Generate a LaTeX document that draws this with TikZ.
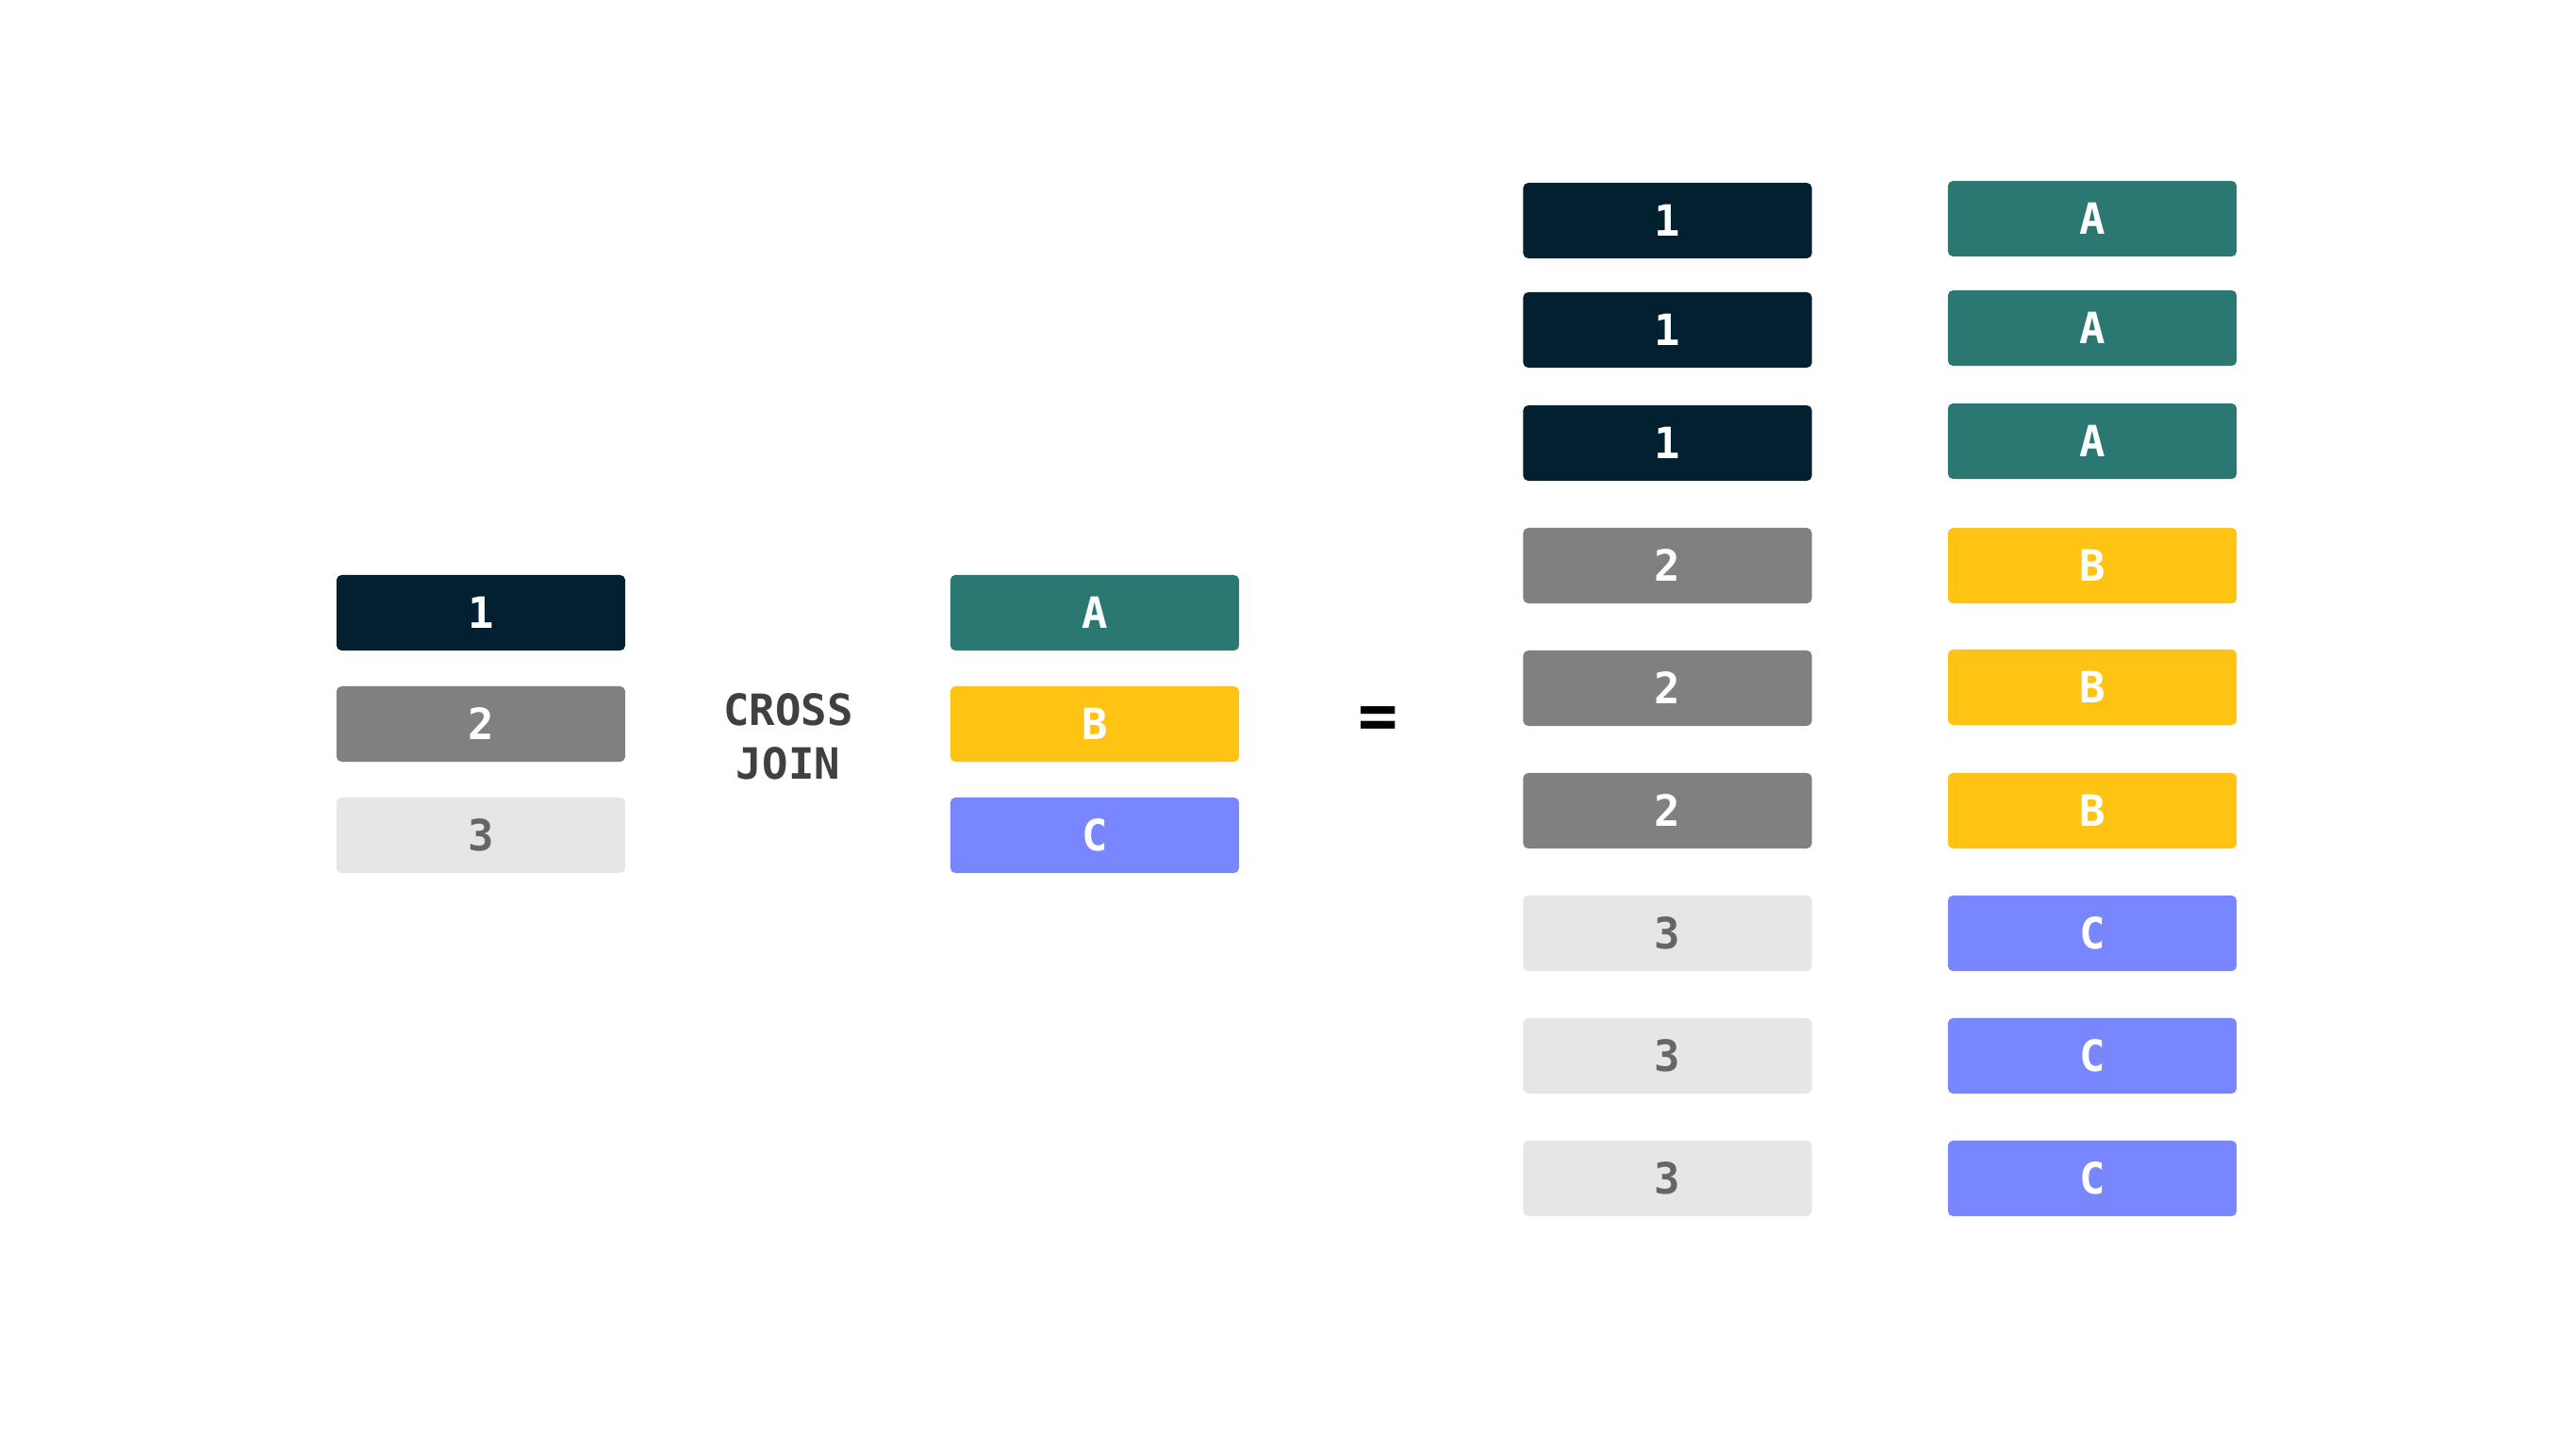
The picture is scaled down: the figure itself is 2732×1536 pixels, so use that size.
\documentclass[tikz,border=0pt]{standalone}
\usepackage{fontspec}
\setmonofont{DejaVu Sans Mono}
\usepackage{xcolor}
\usepackage{tikz}
\definecolor{ink}{HTML}{02202F}
\definecolor{pine}{HTML}{2A7871}
\definecolor{slate}{HTML}{808080}
\definecolor{mist}{HTML}{E6E6E6}
\definecolor{amber}{HTML}{FFC413}
\definecolor{iris}{HTML}{7886FF}
\definecolor{dimtext}{HTML}{666666}
\definecolor{lead}{HTML}{404040}
\tikzset{
  cell/.style={rectangle, rounded corners=1.5pt, minimum width=3.06cm, minimum height=0.8cm,
    inner sep=0pt, text height=9.4pt, text depth=0pt,
    font=\ttfamily\bfseries\fontsize{13}{16}\selectfont},
  cellone/.style={cell, fill=ink, text=white},
  celltwo/.style={cell, fill=slate, text=white},
  cellthree/.style={cell, fill=mist, text=dimtext},
  cella/.style={cell, fill=pine, text=white},
  cellb/.style={cell, fill=amber, text=white},
  cellc/.style={cell, fill=iris, text=white},
  lab/.style={text=lead, align=center, font=\ttfamily\bfseries\fontsize{13}{16.2}\selectfont},
}
\begin{document}
\begin{tikzpicture}[x=0.01cm,y=-0.01cm]
  \useasboundingbox (0,0) rectangle (2732,1536);
  \fill[white] (0,0) rectangle (2732,1536);
  % left table
  \node[cellone]   (num1) at (510,650) {1};
  \node[celltwo]   (num2) at (510,768) {2};
  \node[cellthree] (num3) at (510,886) {3};
  \node[lab]       (join) at (836,781) {CROSS\\JOIN};
  % right table
  \node[cella] (let1) at (1161,650) {A};
  \node[cellb] (let2) at (1161,768) {B};
  \node[cellc] (let3) at (1161,886) {C};
  \node[font=\ttfamily\bfseries\fontsize{20}{24}\selectfont] (eq) at (1461.5,767) {=};
  % result, left column
  \node[cellone]   (res1) at (1768.5,234) {1};
  \node[cellone]   (res2) at (1768.5,350) {1};
  \node[cellone]   (res3) at (1768.5,470) {1};
  \node[celltwo]   (res4) at (1768.5,600) {2};
  \node[celltwo]   (res5) at (1768.5,730) {2};
  \node[celltwo]   (res6) at (1768.5,860) {2};
  \node[cellthree] (res7) at (1768.5,990) {3};
  \node[cellthree] (res8) at (1768.5,1120) {3};
  \node[cellthree] (res9) at (1768.5,1250) {3};
  % result, right column
  \node[cella] (out1) at (2219,232) {A};
  \node[cella] (out2) at (2219,348) {A};
  \node[cella] (out3) at (2219,468) {A};
  \node[cellb] (out4) at (2219,600) {B};
  \node[cellb] (out5) at (2219,729) {B};
  \node[cellb] (out6) at (2219,860) {B};
  \node[cellc] (out7) at (2219,990) {C};
  \node[cellc] (out8) at (2219,1120) {C};
  \node[cellc] (out9) at (2219,1250) {C};
\end{tikzpicture}
\end{document}
